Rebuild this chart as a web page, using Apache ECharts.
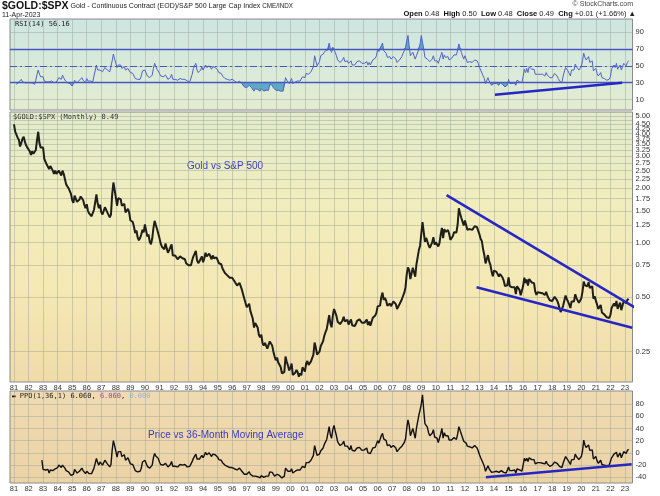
<!DOCTYPE html>
<html><head><meta charset="utf-8">
<script src="https://cdn.jsdelivr.net/npm/echarts@6/dist/echarts.min.js"></script>
<style>html,body{margin:0;padding:0;background:#fff}#c{width:660px;height:496px}</style>
</head><body><div id="c"></div>
<script>
// ---------- DATA (monthly, Jan 1981 .. Apr 2023) ----------
const startYear = 1981;
const yearTicks = [1981,1982,1983,1984,1985,1986,1987,1988,1989,1990,1991,1992,1993,1994,1995,1996,1997,1998,1999,2000,2001,2002,2003,2004,2005,2006,2007,2008,2009,2010,2011,2012,2013,2014,2015,2016,2017,2018,2019,2020,2021,2022,2023];
const priceTicks = [0.25,0.5,0.75,1,1.25,1.5,1.75,2,2.25,2.5,2.75,3,3.25,3.5,3.75,4,4.25,4.5,4.75,5];
const rsiTicks = [10,30,50,70,90];
const ppoTicks = [-40,-20,0,20,40,60,80];
const rsiLevels = [70,50,30];

const price = [
4.5,4.1,3.95,3.8,3.7,3.4,3.55,3.75,3.85,3.6,3.45,3.35,
3.3,3.2,3.05,3.2,3.1,3.05,3.25,3.7,4.1,3.55,3.35,3.3,
3.35,2.9,2.8,2.7,2.75,2.55,2.65,2.6,2.5,2.4,2.5,2.4,
2.35,2.5,2.45,2.35,2.5,2.4,2.25,2.1,2.05,2.0,1.98,1.86,
1.72,1.66,1.82,1.78,1.68,1.66,1.73,1.8,1.82,1.72,1.62,1.55,
1.63,1.5,1.45,1.45,1.4,1.38,1.52,1.55,1.85,1.65,1.55,1.62,
1.47,1.43,1.43,1.57,1.55,1.47,1.45,1.38,1.43,1.85,2.15,1.96,
1.78,1.6,1.76,1.72,1.74,1.6,1.61,1.64,1.47,1.48,1.54,1.47,
1.33,1.34,1.3,1.22,1.13,1.17,1.07,1.03,1.06,1.11,1.18,1.14,
1.26,1.23,1.08,1.11,1.01,0.98,1.05,1.2,1.32,1.25,1.19,1.17,
1.06,0.99,0.95,0.95,0.92,0.99,0.93,0.88,0.91,0.91,0.98,0.85,
0.87,0.85,0.84,0.81,0.81,0.84,0.84,0.82,0.83,0.81,0.77,0.76,
0.75,0.74,0.75,0.8,0.84,0.84,0.9,0.8,0.77,0.79,0.8,0.84,
0.78,0.82,0.88,0.84,0.85,0.87,0.84,0.81,0.85,0.82,0.84,0.83,
0.8,0.77,0.78,0.76,0.72,0.71,0.68,0.68,0.66,0.66,0.64,0.63,
0.64,0.63,0.61,0.6,0.58,0.57,0.6,0.59,0.55,0.54,0.49,0.5,
0.44,0.45,0.46,0.42,0.41,0.38,0.34,0.36,0.35,0.34,0.31,0.3,
0.31,0.28,0.27,0.28,0.27,0.26,0.26,0.285,0.29,0.27,0.25,0.235,
0.224,0.232,0.218,0.214,0.206,0.19,0.192,0.193,0.235,0.22,0.21,0.197,
0.203,0.215,0.186,0.189,0.191,0.198,0.193,0.182,0.19,0.185,0.205,0.206,
0.194,0.215,0.222,0.211,0.213,0.221,0.22,0.241,0.281,0.263,0.241,0.241,
0.25,0.268,0.262,0.286,0.306,0.321,0.333,0.341,0.398,0.358,0.341,0.394,
0.43,0.413,0.394,0.366,0.374,0.355,0.358,0.372,0.39,0.367,0.376,0.375,
0.353,0.345,0.377,0.35,0.351,0.346,0.355,0.37,0.373,0.377,0.386,0.361,
0.357,0.361,0.362,0.376,0.351,0.367,0.348,0.355,0.385,0.389,0.396,0.411,
0.445,0.435,0.449,0.5,0.53,0.483,0.496,0.478,0.448,0.438,0.461,0.446,
0.452,0.473,0.466,0.458,0.43,0.432,0.457,0.457,0.487,0.509,0.529,0.568,
0.67,0.73,0.706,0.629,0.633,0.727,0.725,0.649,0.758,0.753,0.91,0.963,
1.12,1.3,1.148,1.011,1.062,1.016,0.968,0.935,0.942,1.004,1.072,0.975,
1.004,1.005,0.954,0.994,1.108,1.207,1.061,1.188,1.146,1.138,1.174,1.117,
1.037,1.063,1.085,1.141,1.142,1.14,1.26,1.55,1.45,1.374,1.4,1.245,
1.325,1.252,1.18,1.181,1.189,1.173,1.176,1.171,1.232,1.218,1.219,1.162,
1.111,1.048,1.018,0.919,0.855,0.768,0.779,0.854,0.788,0.754,0.694,0.652,
0.702,0.713,0.69,0.684,0.65,0.671,0.664,0.642,0.617,0.577,0.572,0.582,
0.643,0.576,0.572,0.567,0.565,0.568,0.52,0.575,0.581,0.549,0.512,0.519,
0.576,0.641,0.599,0.626,0.579,0.63,0.621,0.603,0.607,0.598,0.536,0.515,
0.532,0.53,0.529,0.532,0.526,0.513,0.514,0.535,0.509,0.494,0.481,0.487,
0.476,0.486,0.502,0.497,0.481,0.461,0.435,0.414,0.409,0.448,0.443,0.511,
0.489,0.473,0.456,0.436,0.474,0.479,0.474,0.519,0.494,0.498,0.466,0.47,
0.492,0.537,0.61,0.582,0.568,0.574,0.604,0.562,0.561,0.575,0.49,0.505,
0.497,0.455,0.43,0.423,0.453,0.412,0.413,0.401,0.408,0.387,0.388,0.384,
0.398,0.436,0.431,0.462,0.446,0.477,0.431,0.436,0.466,0.424,0.433,0.476,
0.477,0.462,0.483,0.49
];

const rsi = [
null,null,28,30,31,29,34,31,32,30,29,30,
31,30,29,30,29,28,33,40,45,40,37,38,
37,32,33,31,33,31,33,32,31,30,32,31,
33,36,36,34,39,37,33,31,30,29,29,27,
26,27,33,32,30,30,33,35,36,33,31,30,
35,32,31,32,31,31,38,40,51,45,43,45,
44,43,44,48,47,45,44,43,45,56,64,58,
53,48,51,50,51,47,48,49,45,46,47,45,
42,42,41,38,35,37,34,33,34,38,44,42,
45,44,38,40,36,35,39,47,53,49,46,45,
41,38,37,37,36,39,37,34,36,36,40,34,
35,34,34,33,33,35,35,34,35,34,32,32,
31,31,33,40,47,47,53,45,42,44,45,49,
45,47,51,48,49,50,48,46,49,47,48,47,
45,42,43,41,38,38,35,35,34,34,33,33,
34,33,32,31,30,30,32,31,29,28,25,27,
24,26,27,25,24,22,20,23,23,22,20,20,
23,21,20,22,21,21,21,28,30,27,24,22,
21,23,21,21,20,19,20,20,36,33,31,29,
31,35,29,30,31,33,32,30,32,31,37,38,
36,41,43,40,41,43,43,49,62,56,50,50,
55,62,60,64,66,68,68,69,77,70,66,72,
72,66,62,57,58,54,55,57,60,55,56,56,
53,51,56,51,52,51,52,55,55,56,57,53,
52,53,53,55,51,54,51,52,57,58,59,62,
70,67,69,74,77,68,69,65,60,58,61,58,
58,61,60,58,54,54,57,57,61,65,68,72,
80,86,74,62,62,66,64,58,62,61,70,76,
86,78,70,60,62,58,56,55,55,58,62,56,
56,56,53,55,62,66,58,63,60,59,61,57,
58,59,60,63,63,63,69,76,71,66,67,58,
62,58,54,54,55,54,54,54,57,56,56,53,
48,45,44,38,35,29,30,36,32,31,27,26,
29,31,29,29,27,30,30,28,27,25,25,27,
34,29,29,29,29,30,27,33,34,31,29,30,
37,46,42,47,42,49,48,46,47,46,40,38,
40,40,40,40,40,38,38,42,39,37,36,37,
36,38,41,40,38,35,32,30,30,38,37,48,
46,44,41,38,45,46,45,52,49,50,45,46,
49,56,65,60,57,58,61,54,54,56,44,46,
47,41,38,37,42,36,37,35,36,33,34,34,
37,46,45,51,48,53,46,47,51,45,47,53,
53,50,54,56.16
];

const ppo = [
null,null,null,null,null,null,null,null,null,null,null,null,
null,null,null,null,null,null,null,null,null,null,null,-12,
-27,-30,-28,-31,-27,-33,-28,-29,-29,-31,-26,-28,
-24,-20,-21,-24,-20,-22,-25,-29,-30,-31,-32,-37,
-39,-35,-27,-29,-33,-33,-30,-27,-25,-29,-32,-34,
-30,-33,-34,-33,-34,-33,-25,-22,-9,-16,-20,-15,
-18,-20,-20,-12,-13,-18,-19,-23,-19,5,20,12,
3,-7,2,1,2,-6,-5,-3,-12,-11,-8,-11,
-18,-17,-19,-24,-29,-26,-31,-32,-30,-25,-15,-16,
-12,-13,-22,-19,-25,-26,-20,-8,-1,-5,-8,-9,
-15,-19,-21,-20,-22,-17,-20,-23,-20,-19,-14,-22,
-21,-22,-21,-23,-22,-19,-18,-20,-18,-19,-22,-23,
-22,-22,-20,-14,-9,-8,-2,-10,-13,-10,-9,-4,
-8,-4,1,-3,-2,0,-3,-6,-2,-5,-3,-4,
-7,-11,-9,-12,-16,-17,-20,-20,-22,-22,-24,-25,
-24,-25,-26,-27,-28,-29,-25,-26,-30,-30,-35,-33,
-35,-33,-31,-35,-36,-38,-41,-38,-38,-39,-41,-41,
-37,-40,-40,-37,-38,-38,-38,-31,-29,-32,-35,-38,
-39,-35,-37,-37,-38,-41,-39,-38,-25,-28,-30,-32,
-30,-26,-33,-31,-30,-27,-28,-31,-28,-29,-22,-21,
-24,-16,-13,-16,-15,-12,-12,-4,12,4,-4,-4,
-2,3,2,8,14,18,22,25,43,30,24,38,
45,36,28,18,20,12,12,15,19,11,12,11,
8,5,12,4,4,3,5,8,9,9,11,4,
5,5,4,8,0,3,-1,1,8,8,9,12,
20,16,19,28,32,23,25,20,12,9,13,9,
9,12,10,8,2,2,7,6,11,14,17,23,
40,54,45,28,28,40,38,24,40,40,62,70,
80,95,70,48,50,42,33,28,27,32,38,26,
25,24,17,20,31,40,24,33,28,26,28,21,
20,21,21,25,24,22,31,43,37,31,32,19,
22,16,11,10,10,9,8,8,12,9,8,3,
-3,-8,-10,-17,-22,-30,-28,-21,-26,-28,-32,-35,
-31,-29,-30,-30,-32,-29,-29,-30,-32,-34,-33,-31,
-23,-29,-29,-29,-29,-28,-33,-26,-25,-28,-31,-30,
-20,-9,-13,-9,-14,-8,-9,-11,-10,-11,-18,-20,
-16,-16,-16,-16,-17,-19,-18,-14,-18,-20,-22,-20,
-20,-18,-15,-15,-17,-19,-22,-24,-24,-17,-18,-6,
-9,-12,-15,-19,-11,-10,-11,-2,-6,-5,-11,-10,
-6,3,21,13,9,9,13,4,3,5,-10,-7,
-6,-13,-17,-18,-12,-19,-18,-20,-18,-21,-20,-20,
-17,-8,-9,-2,-5,1,-7,-6,0,-8,-6,2,
2,-1,4,6.06
];

// trend lines drawn on the reference: [year, value] endpoints
const priceTrendUpper = [[2010.74,1.83],[2024.10,0.419]];
const priceTrendLower = [[2012.80,0.567],[2023.50,0.339]];
const rsiTrend = [[2014.06,15.7],[2022.81,30.0]];
const ppoTrend = [[2013.44,-39.9],[2023.46,-18.7]];

// ---------- CHART ----------
const toXY = arr => arr.map((v,i) => [startYear + i/12, v]);
const X_MIN = 1980.725, X_MAX = 2023.52;
const FONT = '"Liberation Sans", Arial, sans-serif';
const MONO = '"DejaVu Sans Mono", monospace';
const gridColor = 'rgba(150,165,150,0.45)';
const trendColor = '#2626c4';
const grad = stops => ({type:'linear',x:0,y:0,x2:0,y2:1,colorStops:stops.map((c,i)=>({offset:i/(stops.length-1),color:c}))});

const xAxisBase = (idx, showLabel) => ({
  type:'value', gridIndex: idx, min: X_MIN, max: X_MAX,
  axisLine:{show:false},
  axisTick:{show:false, customValues: yearTicks},
  splitLine:{show:true, lineStyle:{color:gridColor, width:1}},
  axisLabel:{show: showLabel, customValues: yearTicks, margin: 2, fontSize: 7.5, fontFamily: FONT, color:'#333',
    showMinLabel:true, showMaxLabel:true,
    formatter: v => String(Math.round(v) % 100).padStart(2,'0')}
});
const yLabel = (fmt, ticks) => ({show:true, margin:3, fontSize:7.5, fontFamily:FONT, color:'#333',
  showMinLabel:true, showMaxLabel:true, hideOverlap:false, customValues: ticks, formatter: fmt});

const chart = echarts.init(document.getElementById('c'), null, {renderer:'canvas'});
chart.setOption({
  animation:false,
  backgroundColor:'#ffffff',
  grid:[
    {left:10, top:19, width:622.5, height:91, show:true, borderColor:'#8a8a8a', borderWidth:1,
     backgroundColor: grad(['#cde5e0','#d9eadb','#e3eccf'])},
    {left:10, top:112, width:622.5, height:270, show:true, borderColor:'#8a8a8a', borderWidth:1,
     backgroundColor: grad(['#e2ebcc','#f1edbd','#f5e8b4','#f0dba9'])},
    {left:10, top:391, width:622.5, height:92, show:true, borderColor:'#8a8a8a', borderWidth:1,
     backgroundColor: grad(['#efdab2','#ecd3a6'])}
  ],
  xAxis:[ xAxisBase(0,false), xAxisBase(1,true), xAxisBase(2,true) ],
  yAxis:[
    {type:'value', gridIndex:0, position:'right', min:-2.4, max:105.6,
     axisLine:{show:false}, axisTick:{show:false, customValues: rsiTicks},
     splitLine:{show:true, lineStyle:{color:gridColor}},
     axisLabel: yLabel(v=>String(v), rsiTicks)},
    {type:'log', gridIndex:1, position:'right', min:0.17, max:5.27, logBase:10,
     axisLine:{show:false}, axisTick:{show:false, customValues: priceTicks},
     splitLine:{show:true, lineStyle:{color:gridColor}},
     axisLabel: yLabel(v=>Number(v).toFixed(2), priceTicks)},
    {type:'value', gridIndex:2, position:'right', min:-49.3, max:101.3,
     axisLine:{show:false}, axisTick:{show:false, customValues: ppoTicks},
     splitLine:{show:true, lineStyle:{color:gridColor}},
     axisLabel: yLabel(v=>String(v), ppoTicks)}
  ],
  series:[
    {type:'line', xAxisIndex:0, yAxisIndex:0, data: toXY(rsi).map(p=>[p[0], p[1]==null?null:Math.max(p[1],rsiLevels[0])]),
     showSymbol:false, lineStyle:{width:0}, areaStyle:{origin:rsiLevels[0], color:'#4fa3c0', opacity:0.9}, silent:true, z:2},
    {type:'line', xAxisIndex:0, yAxisIndex:0, data: toXY(rsi).map(p=>[p[0], p[1]==null?null:Math.min(p[1],rsiLevels[2])]),
     showSymbol:false, lineStyle:{width:0}, areaStyle:{origin:rsiLevels[2], color:'#4fa3c0', opacity:0.9}, silent:true, z:2},
    {type:'line', xAxisIndex:0, yAxisIndex:0, data: toXY(rsi), showSymbol:false,
     lineStyle:{color:'#5062c8', width:1}, z:4,
     markLine:{silent:true, symbol:'none', label:{show:false},
       data:[
         {yAxis:rsiLevels[0], lineStyle:{color:'#4657c4', width:1.4, type:'solid'}},
         {yAxis:rsiLevels[1], lineStyle:{color:'#4657c4', width:1, type:[7,3,2,3]}},
         {yAxis:rsiLevels[2], lineStyle:{color:'#4657c4', width:1.4, type:'solid'}}
       ]}},
    {type:'line', xAxisIndex:0, yAxisIndex:0, data: rsiTrend, showSymbol:false, clip:false,
     lineStyle:{color:trendColor, width:2.5}, z:6},
    {type:'line', xAxisIndex:1, yAxisIndex:1, data: toXY(price), showSymbol:false,
     lineStyle:{color:'#1e1e1a', width:2}, z:4},
    {type:'line', xAxisIndex:1, yAxisIndex:1, data: priceTrendUpper, showSymbol:false, clip:false,
     lineStyle:{color:trendColor, width:2.5}, z:6},
    {type:'line', xAxisIndex:1, yAxisIndex:1, data: priceTrendLower, showSymbol:false, clip:false,
     lineStyle:{color:trendColor, width:2.5}, z:6},
    {type:'line', xAxisIndex:2, yAxisIndex:2, data: toXY(ppo), showSymbol:false,
     lineStyle:{color:'#111', width:1.4}, z:4},
    {type:'line', xAxisIndex:2, yAxisIndex:2, data: ppoTrend, showSymbol:false, clip:false,
     lineStyle:{color:trendColor, width:2.5}, z:6}
  ],
  graphic:[
    {type:'text', x:2, y:1, style:{
      text:'{b|$GOLD:$SPX} Gold - Continuous Contract (EOD)/S&P 500 Large Cap Index {s|CME/INDX}',
      font:'7px '+FONT, fill:'#222',
      rich:{b:{fontWeight:'bold', fontSize:10.5, fontFamily:FONT, fill:'#111'}, s:{fontSize:6.3, fontFamily:FONT, fill:'#222'}}}},
    {type:'text', x:2, y:12, style:{text:'11-Apr-2023', font:'7px '+FONT, fill:'#222'}},
    {type:'text', x:633, y:1, style:{text:'© StockCharts.com', font:'7px '+FONT, fill:'#444', align:'right'}},
    {type:'text', x:636, y:10, style:{
      text:'{b|Open} 0.48  {b|High} 0.50  {b|Low} 0.48  {b|Close} 0.49  {b|Chg} {g|+0.01 (+1.66%) ▲}',
      font:'7.5px '+FONT, fill:'#222', align:'right',
      rich:{b:{fontWeight:'bold', fontSize:7.5, fontFamily:FONT, fill:'#111'}, g:{fontSize:7.5, fontFamily:FONT, fill:'#222'}}}},
    {type:'text', x:15, y:21, style:{text:'RSI(14) 56.16', font:'7px '+MONO, fill:'#222'}},
    {type:'text', x:13, y:114, style:{text:'$GOLD:$SPX (Monthly) 0.49', font:'7px '+MONO, fill:'#222'}},
    {type:'text', x:12, y:393, style:{
      text:'{k|▬} PPO(1,36,1) 6.060, {p|6.060}, {q|0.000}', font:'7px '+MONO, fill:'#222',
      rich:{k:{fill:'#111', fontSize:6, fontFamily:MONO}, p:{fill:'#a044a8', fontSize:7, fontFamily:MONO}, q:{fill:'#8fb6d4', fontSize:7, fontFamily:MONO}}}},
    {type:'text', x:187, y:161, style:{text:'Gold vs S&P 500', font:'10px '+FONT, fill:'#3838c4'}},
    {type:'text', x:148, y:430, style:{text:'Price vs 36-Month Moving Average', font:'10px '+FONT, fill:'#3838c4'}}
  ]
});
</script></body></html>
